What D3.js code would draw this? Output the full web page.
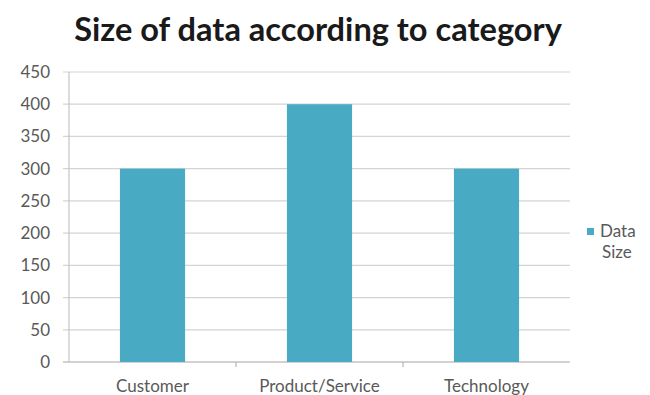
<!DOCTYPE html>
<html>
<head>
<meta charset="utf-8">
<script src="https://cdn.jsdelivr.net/npm/d3@7"></script>
<style>
body { margin: 0; background: #fff; }
text { font-family: Lato, "Open Sans", sans-serif; }
</style>
</head>
<body>
<div id="chart"></div>
<script>
// chart values
var categories = ["Customer", "Product/Service", "Technology"]
var dataSize = [300, 400, 300]
var yTicks = [0, 50, 100, 150, 200, 250, 300, 350, 400, 450]
var seriesName = ["Data", "Size"]

var width = 650, height = 395
var plotLeft = 69, plotRight = 570, plotTop = 72, plotBottom = 362

var svg = d3.select("#chart").append("svg")
    .attr("width", width)
    .attr("height", height)

var x = d3.scaleBand().domain(categories).range([plotLeft, plotRight]).paddingInner(0.61).paddingOuter(0.305)
var y = d3.scaleLinear().domain([0, 450]).range([plotBottom, plotTop])

// gridlines
svg.selectAll("line.grid")
    .data(yTicks)
    .enter()
    .append("line")
    .attr("class", "grid")
    .attr("x1", plotLeft - 6)
    .attr("x2", plotRight)
    .attr("y1", d => y(d))
    .attr("y2", d => y(d))
    .attr("stroke", d => d == 0 ? "#a6a6a6" : "#d4d4d4")
    .attr("stroke-width", 1.2)

// y axis line
svg.append("line")
    .attr("x1", plotLeft).attr("x2", plotLeft)
    .attr("y1", plotTop).attr("y2", plotBottom)
    .attr("stroke", "#c4c4c4")
    .attr("stroke-width", 1.2)

// y labels
svg.selectAll("text.ylab")
    .data(yTicks)
    .enter()
    .append("text")
    .attr("class", "ylab")
    .attr("x", 50)
    .attr("y", d => y(d) + 6)
    .attr("text-anchor", "end")
    .attr("font-size", "17px")
    .attr("fill", "#595959")
    .text(d => d)

// bars
svg.selectAll("rect.bar")
    .data(dataSize)
    .enter()
    .append("rect")
    .attr("class", "bar")
    .attr("x", (d, i) => x(categories[i]))
    .attr("width", x.bandwidth())
    .attr("y", d => y(d))
    .attr("height", d => plotBottom - y(d))
    .attr("fill", "#49aac4")

// x axis tick marks at category boundaries
var boundaries = [1, 2].map(i => plotLeft + (plotRight - plotLeft) / 3 * i)
svg.selectAll("line.xtick")
    .data(boundaries)
    .enter()
    .append("line")
    .attr("x1", d => d).attr("x2", d => d)
    .attr("y1", plotBottom).attr("y2", plotBottom + 5)
    .attr("stroke", "#a6a6a6")

// x labels
svg.selectAll("text.xlab")
    .data(categories)
    .enter()
    .append("text")
    .attr("class", "xlab")
    .attr("x", d => x(d) + x.bandwidth() / 2)
    .attr("y", 392)
    .attr("text-anchor", "middle")
    .attr("font-size", "17px")
    .attr("fill", "#595959")
    .text(d => d)

// title
svg.append("text")
    .attr("x", 318)
    .attr("y", 41)
    .attr("text-anchor", "middle")
    .attr("font-size", "32.6px")
    .attr("font-weight", "bold")
    .attr("fill", "#1a1a1a")
    .text("Size of data according to category")

// legend
svg.append("rect")
    .attr("x", 587).attr("y", 228)
    .attr("width", 7).attr("height", 7)
    .attr("fill", "#49aac4")

svg.selectAll("text.leg")
    .data(seriesName)
    .enter()
    .append("text")
    .attr("class", "leg")
    .attr("x", (d, i) => i == 0 ? 600 : 602)
    .attr("y", (d, i) => 237 + i * 21)
    .attr("font-size", "17px")
    .attr("fill", "#595959")
    .text(d => d)
</script>
</body>
</html>
